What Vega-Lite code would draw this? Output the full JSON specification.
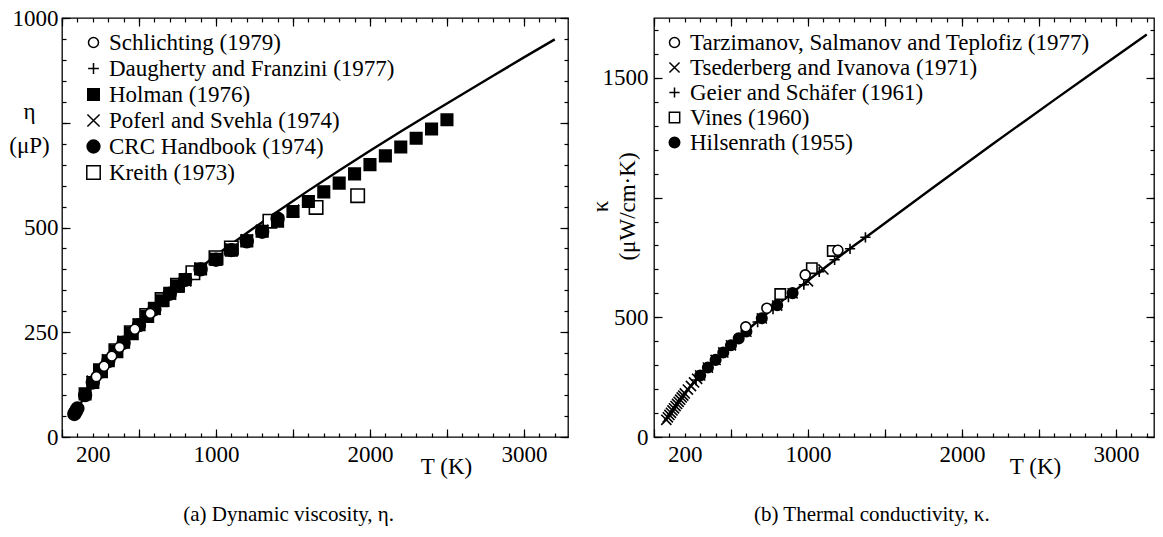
{
  "$schema": "https://vega.github.io/schema/vega-lite/v6.json",
  "background": "white",
  "padding": {"left": 8, "top": 6, "right": 5, "bottom": 5},
  "config": {
    "font": "Liberation Serif",
    "view": {"stroke": "black", "strokeWidth": 1.3},
    "axis": {"labelFont": "Liberation Serif", "labelFontSize": 23, "labelColor": "black", "tickColor": "black", "tickWidth": 1.2, "domain": false, "grid": false, "titleFont": "Liberation Serif", "titleFontSize": 23, "titleFontWeight": "normal", "titleColor": "black", "labelOverlap": false, "labelFlush": false, "labelBound": false},
    "legend": {"orient": "none", "title": null, "labelFont": "Liberation Serif", "labelFontSize": 23, "labelColor": "black", "labelLimit": 0, "rowPadding": 2, "labelOffset": 4, "padding": 0},
    "title": {"font": "Liberation Serif", "fontSize": 21, "fontWeight": "normal", "color": "black"}
  },
  "datasets": {
    "viscLine": [
      {"T": 100, "v": 68}, {"T": 200, "v": 128}, {"T": 300, "v": 180}, {"T": 400, "v": 224}, {"T": 500, "v": 264}, {"T": 600, "v": 302}, {"T": 700, "v": 338}, {"T": 800, "v": 372}, {"T": 900, "v": 404}, {"T": 1000, "v": 434}, {"T": 1200, "v": 487}, {"T": 1400, "v": 538}, {"T": 1600, "v": 588}, {"T": 1800, "v": 636}, {"T": 2000, "v": 683}, {"T": 2200, "v": 729}, {"T": 2400, "v": 774}, {"T": 2600, "v": 818}, {"T": 2800, "v": 862}, {"T": 3000, "v": 906}, {"T": 3200, "v": 949}
    ],
    "visc": [
      {"s": "Kreith (1973)", "T": 250, "v": 158}, {"s": "Kreith (1973)", "T": 350, "v": 206}, {"s": "Kreith (1973)", "T": 450, "v": 249}, {"s": "Kreith (1973)", "T": 550, "v": 290}, {"s": "Kreith (1973)", "T": 650, "v": 328}, {"s": "Kreith (1973)", "T": 750, "v": 362}, {"s": "Kreith (1973)", "T": 850, "v": 392}, {"s": "Kreith (1973)", "T": 1000, "v": 428}, {"s": "Kreith (1973)", "T": 1100, "v": 451}, {"s": "Kreith (1973)", "T": 1350, "v": 515}, {"s": "Kreith (1973)", "T": 1650, "v": 548}, {"s": "Kreith (1973)", "T": 1920, "v": 576},
      {"s": "Holman (1976)", "T": 150, "v": 103}, {"s": "Holman (1976)", "T": 200, "v": 130}, {"s": "Holman (1976)", "T": 250, "v": 157}, {"s": "Holman (1976)", "T": 300, "v": 182}, {"s": "Holman (1976)", "T": 350, "v": 205}, {"s": "Holman (1976)", "T": 400, "v": 226}, {"s": "Holman (1976)", "T": 450, "v": 248}, {"s": "Holman (1976)", "T": 500, "v": 268}, {"s": "Holman (1976)", "T": 550, "v": 288}, {"s": "Holman (1976)", "T": 600, "v": 307}, {"s": "Holman (1976)", "T": 650, "v": 325}, {"s": "Holman (1976)", "T": 700, "v": 343}, {"s": "Holman (1976)", "T": 750, "v": 360}, {"s": "Holman (1976)", "T": 800, "v": 376}, {"s": "Holman (1976)", "T": 900, "v": 401}, {"s": "Holman (1976)", "T": 1000, "v": 424}, {"s": "Holman (1976)", "T": 1100, "v": 446}, {"s": "Holman (1976)", "T": 1200, "v": 468}, {"s": "Holman (1976)", "T": 1300, "v": 491}, {"s": "Holman (1976)", "T": 1400, "v": 515}, {"s": "Holman (1976)", "T": 1500, "v": 538}, {"s": "Holman (1976)", "T": 1600, "v": 562}, {"s": "Holman (1976)", "T": 1700, "v": 585}, {"s": "Holman (1976)", "T": 1800, "v": 606}, {"s": "Holman (1976)", "T": 1900, "v": 628}, {"s": "Holman (1976)", "T": 2000, "v": 650}, {"s": "Holman (1976)", "T": 2100, "v": 671}, {"s": "Holman (1976)", "T": 2200, "v": 692}, {"s": "Holman (1976)", "T": 2300, "v": 713}, {"s": "Holman (1976)", "T": 2400, "v": 735}, {"s": "Holman (1976)", "T": 2500, "v": 757},
      {"s": "CRC Handbook (1974)", "T": 80, "v": 55}, {"s": "CRC Handbook (1974)", "T": 90, "v": 61}, {"s": "CRC Handbook (1974)", "T": 100, "v": 68}, {"s": "CRC Handbook (1974)", "T": 150, "v": 100}, {"s": "CRC Handbook (1974)", "T": 200, "v": 130}, {"s": "CRC Handbook (1974)", "T": 250, "v": 156}, {"s": "CRC Handbook (1974)", "T": 300, "v": 181}, {"s": "CRC Handbook (1974)", "T": 400, "v": 225}, {"s": "CRC Handbook (1974)", "T": 500, "v": 267}, {"s": "CRC Handbook (1974)", "T": 600, "v": 305}, {"s": "CRC Handbook (1974)", "T": 700, "v": 342}, {"s": "CRC Handbook (1974)", "T": 800, "v": 375}, {"s": "CRC Handbook (1974)", "T": 900, "v": 400}, {"s": "CRC Handbook (1974)", "T": 1000, "v": 423}, {"s": "CRC Handbook (1974)", "T": 1100, "v": 446}, {"s": "CRC Handbook (1974)", "T": 1200, "v": 467}, {"s": "CRC Handbook (1974)", "T": 1300, "v": 490}, {"s": "CRC Handbook (1974)", "T": 1400, "v": 521},
      {"s": "Poferl and Svehla (1974)", "T": 200, "v": 132}, {"s": "Poferl and Svehla (1974)", "T": 250, "v": 158}, {"s": "Poferl and Svehla (1974)", "T": 300, "v": 183}, {"s": "Poferl and Svehla (1974)", "T": 350, "v": 206}, {"s": "Poferl and Svehla (1974)", "T": 400, "v": 227}, {"s": "Poferl and Svehla (1974)", "T": 500, "v": 268}, {"s": "Poferl and Svehla (1974)", "T": 600, "v": 306}, {"s": "Poferl and Svehla (1974)", "T": 700, "v": 342}, {"s": "Poferl and Svehla (1974)", "T": 800, "v": 374}, {"s": "Poferl and Svehla (1974)", "T": 900, "v": 402}, {"s": "Poferl and Svehla (1974)", "T": 1000, "v": 425}, {"s": "Poferl and Svehla (1974)", "T": 1100, "v": 447}, {"s": "Poferl and Svehla (1974)", "T": 1200, "v": 469}, {"s": "Poferl and Svehla (1974)", "T": 1300, "v": 492}, {"s": "Poferl and Svehla (1974)", "T": 1400, "v": 516}, {"s": "Poferl and Svehla (1974)", "T": 1500, "v": 540},
      {"s": "Daugherty and Franzini (1977)", "T": 100, "v": 69}, {"s": "Daugherty and Franzini (1977)", "T": 150, "v": 101}, {"s": "Daugherty and Franzini (1977)", "T": 200, "v": 131}, {"s": "Daugherty and Franzini (1977)", "T": 250, "v": 157}, {"s": "Daugherty and Franzini (1977)", "T": 300, "v": 182}, {"s": "Daugherty and Franzini (1977)", "T": 350, "v": 205}, {"s": "Daugherty and Franzini (1977)", "T": 400, "v": 226}, {"s": "Daugherty and Franzini (1977)", "T": 450, "v": 247}, {"s": "Daugherty and Franzini (1977)", "T": 500, "v": 268}, {"s": "Daugherty and Franzini (1977)", "T": 600, "v": 306}, {"s": "Daugherty and Franzini (1977)", "T": 700, "v": 342}, {"s": "Daugherty and Franzini (1977)", "T": 800, "v": 375}, {"s": "Daugherty and Franzini (1977)", "T": 900, "v": 403}, {"s": "Daugherty and Franzini (1977)", "T": 1000, "v": 426}, {"s": "Daugherty and Franzini (1977)", "T": 1100, "v": 449},
      {"s": "Schlichting (1979)", "T": 223, "v": 144}, {"s": "Schlichting (1979)", "T": 273, "v": 169}, {"s": "Schlichting (1979)", "T": 323, "v": 193}, {"s": "Schlichting (1979)", "T": 373, "v": 214}, {"s": "Schlichting (1979)", "T": 473, "v": 257}, {"s": "Schlichting (1979)", "T": 573, "v": 295}
    ],
    "condLine": [
      {"T": 80, "k": 74}, {"T": 100, "k": 93}, {"T": 150, "k": 140}, {"T": 200, "k": 184}, {"T": 250, "k": 222}, {"T": 300, "k": 258}, {"T": 350, "k": 292}, {"T": 400, "k": 324}, {"T": 450, "k": 355}, {"T": 500, "k": 385}, {"T": 550, "k": 414}, {"T": 600, "k": 443}, {"T": 650, "k": 471}, {"T": 700, "k": 498}, {"T": 750, "k": 525}, {"T": 800, "k": 552}, {"T": 850, "k": 578}, {"T": 900, "k": 603}, {"T": 950, "k": 629}, {"T": 1000, "k": 654}, {"T": 1100, "k": 703}, {"T": 1200, "k": 752}, {"T": 1300, "k": 800}, {"T": 1400, "k": 846}, {"T": 1600, "k": 941}, {"T": 1800, "k": 1036}, {"T": 2000, "k": 1130}, {"T": 2200, "k": 1224}, {"T": 2400, "k": 1316}, {"T": 2600, "k": 1408}, {"T": 2800, "k": 1499}, {"T": 3000, "k": 1590}, {"T": 3200, "k": 1681}
    ],
    "cond": [
      {"s": "Hilsenrath (1955)", "T": 300, "k": 257}, {"s": "Hilsenrath (1955)", "T": 350, "k": 290}, {"s": "Hilsenrath (1955)", "T": 400, "k": 322}, {"s": "Hilsenrath (1955)", "T": 450, "k": 353}, {"s": "Hilsenrath (1955)", "T": 500, "k": 383}, {"s": "Hilsenrath (1955)", "T": 550, "k": 412}, {"s": "Hilsenrath (1955)", "T": 600, "k": 441}, {"s": "Hilsenrath (1955)", "T": 700, "k": 496}, {"s": "Hilsenrath (1955)", "T": 800, "k": 550}, {"s": "Hilsenrath (1955)", "T": 900, "k": 601},
      {"s": "Tsederberg and Ivanova (1971)", "T": 80, "k": 72}, {"s": "Tsederberg and Ivanova (1971)", "T": 90, "k": 82}, {"s": "Tsederberg and Ivanova (1971)", "T": 100, "k": 92}, {"s": "Tsederberg and Ivanova (1971)", "T": 110, "k": 101}, {"s": "Tsederberg and Ivanova (1971)", "T": 120, "k": 111}, {"s": "Tsederberg and Ivanova (1971)", "T": 130, "k": 120}, {"s": "Tsederberg and Ivanova (1971)", "T": 140, "k": 129}, {"s": "Tsederberg and Ivanova (1971)", "T": 150, "k": 138}, {"s": "Tsederberg and Ivanova (1971)", "T": 160, "k": 147}, {"s": "Tsederberg and Ivanova (1971)", "T": 170, "k": 156}, {"s": "Tsederberg and Ivanova (1971)", "T": 180, "k": 165}, {"s": "Tsederberg and Ivanova (1971)", "T": 190, "k": 173}, {"s": "Tsederberg and Ivanova (1971)", "T": 200, "k": 182}, {"s": "Tsederberg and Ivanova (1971)", "T": 220, "k": 198}, {"s": "Tsederberg and Ivanova (1971)", "T": 240, "k": 213}, {"s": "Tsederberg and Ivanova (1971)", "T": 260, "k": 228}, {"s": "Tsederberg and Ivanova (1971)", "T": 280, "k": 243}, {"s": "Tsederberg and Ivanova (1971)", "T": 300, "k": 257}, {"s": "Tsederberg and Ivanova (1971)", "T": 350, "k": 290}, {"s": "Tsederberg and Ivanova (1971)", "T": 400, "k": 322}, {"s": "Tsederberg and Ivanova (1971)", "T": 450, "k": 353}, {"s": "Tsederberg and Ivanova (1971)", "T": 500, "k": 383}, {"s": "Tsederberg and Ivanova (1971)", "T": 600, "k": 440}, {"s": "Tsederberg and Ivanova (1971)", "T": 700, "k": 495}, {"s": "Tsederberg and Ivanova (1971)", "T": 800, "k": 549}, {"s": "Tsederberg and Ivanova (1971)", "T": 900, "k": 600}, {"s": "Tsederberg and Ivanova (1971)", "T": 1000, "k": 650}, {"s": "Tsederberg and Ivanova (1971)", "T": 1100, "k": 700},
      {"s": "Geier and Schäfer (1961)", "T": 273, "k": 238}, {"s": "Geier and Schäfer (1961)", "T": 373, "k": 305}, {"s": "Geier and Schäfer (1961)", "T": 473, "k": 366}, {"s": "Geier and Schäfer (1961)", "T": 573, "k": 425}, {"s": "Geier and Schäfer (1961)", "T": 673, "k": 480}, {"s": "Geier and Schäfer (1961)", "T": 773, "k": 534}, {"s": "Geier and Schäfer (1961)", "T": 873, "k": 584}, {"s": "Geier and Schäfer (1961)", "T": 973, "k": 636}, {"s": "Geier and Schäfer (1961)", "T": 1073, "k": 690}, {"s": "Geier and Schäfer (1961)", "T": 1173, "k": 740}, {"s": "Geier and Schäfer (1961)", "T": 1273, "k": 786}, {"s": "Geier and Schäfer (1961)", "T": 1373, "k": 834},
      {"s": "Vines (1960)", "T": 820, "k": 597}, {"s": "Vines (1960)", "T": 1025, "k": 705}, {"s": "Vines (1960)", "T": 1161, "k": 777},
      {"s": "Tarzimanov, Salmanov and Teplofiz (1977)", "T": 596, "k": 460}, {"s": "Tarzimanov, Salmanov and Teplofiz (1977)", "T": 733, "k": 538}, {"s": "Tarzimanov, Salmanov and Teplofiz (1977)", "T": 982, "k": 677}, {"s": "Tarzimanov, Salmanov and Teplofiz (1977)", "T": 1194, "k": 780}
    ]
  },
  "spacing": 86,
  "bounds": "flush",
  "resolve": {"scale": {"shape": "independent", "fill": "independent", "size": "independent"}, "legend": {"shape": "independent", "fill": "independent", "size": "independent"}},
  "hconcat": [
    {
      "width": 506,
      "height": 419,
      "title": {"text": "(a) Dynamic viscosity, η.", "orient": "bottom", "frame": "bounds", "anchor": "middle", "offset": 26},
      "resolve": {"axis": {"x": "independent", "y": "independent"}},
      "layer": [
        {
          "data": {"name": "viscLine"},
          "mark": {"type": "line", "color": "black", "strokeWidth": 2.4},
          "encoding": {
            "x": {"field": "T", "type": "quantitative", "scale": {"domain": [0, 3286], "nice": false, "zero": false}, "axis": {"orient": "bottom", "values": [0, 500, 1000, 1500, 2000, 2500, 3000], "tickSize": -8, "labels": false, "title": null}},
            "y": {"field": "v", "type": "quantitative", "scale": {"domain": [0, 1000], "nice": false}, "axis": {"orient": "left", "values": [0, 250, 500, 750, 1000], "tickSize": -8, "labels": false, "title": null}}
          }
        },
        {
          "data": {"name": "visc"},
          "mark": {"type": "point", "stroke": "black", "strokeWidth": 1.6, "opacity": 1},
          "encoding": {
            "x": {"field": "T", "type": "quantitative", "axis": {"orient": "bottom", "values": [0, 100, 200, 300, 400, 500, 600, 700, 800, 900, 1000, 1100, 1200, 1300, 1400, 1500, 1600, 1700, 1800, 1900, 2000, 2100, 2200, 2300, 2400, 2500, 2600, 2700, 2800, 2900, 3000, 3100, 3200], "tickSize": -4, "format": "d", "labelExpr": "datum.value == 200 || datum.value == 1000 || datum.value == 2000 || datum.value == 3000 ? datum.label : ''", "labelPadding": 10, "title": "T (K)", "titleX": 384, "titleY": 29, "titleAngle": 0, "titleAlign": "center", "titleBaseline": "middle"}},
            "y": {"field": "v", "type": "quantitative", "axis": {"orient": "left", "values": [0, 50, 100, 150, 200, 250, 300, 350, 400, 450, 500, 550, 600, 650, 700, 750, 800, 850, 900, 950, 1000], "tickSize": -4, "format": "d", "labelExpr": "datum.value == 0 || datum.value == 250 || datum.value == 500 || datum.value == 1000 ? datum.label : ''", "labelPadding": 8, "title": ["η", "(μP)"], "titleX": -33, "titleY": 93, "titleAngle": 0, "titleAlign": "center", "titleBaseline": "middle", "titleLineHeight": 34}},
            "shape": {"field": "s", "type": "nominal", "scale": {"domain": ["Schlichting (1979)", "Daugherty and Franzini (1977)", "Holman (1976)", "Poferl and Svehla (1974)", "CRC Handbook (1974)", "Kreith (1973)"], "range": ["circle", "M-1,0H1M0,-1V1", "square", "M-1,-1L1,1M-1,1L1,-1", "circle", "square"]}, "legend": {"legendX": 20, "legendY": 13, "encode": {"symbols": {"update": {"stroke": {"value": "black"}, "strokeWidth": {"value": 1.5}}}}}},
            "fill": {"field": "s", "type": "nominal", "scale": {"domain": ["Schlichting (1979)", "Daugherty and Franzini (1977)", "Holman (1976)", "Poferl and Svehla (1974)", "CRC Handbook (1974)", "Kreith (1973)"], "range": ["white", "black", "black", "black", "black", "white"]}, "legend": {"legendX": 20, "legendY": 13, "encode": {"symbols": {"update": {"stroke": {"value": "black"}, "strokeWidth": {"value": 1.5}}}}}},
            "size": {"field": "s", "type": "nominal", "scale": {"domain": ["Schlichting (1979)", "Daugherty and Franzini (1977)", "Holman (1976)", "Poferl and Svehla (1974)", "CRC Handbook (1974)", "Kreith (1973)"], "range": [100, 180, 70, 110, 100, 70]}, "legend": {"legendX": 20, "legendY": 13, "encode": {"symbols": {"update": {"stroke": {"value": "black"}, "strokeWidth": {"value": 1.5}}}}}}
          }
        },
        {
          "data": {"name": "viscLine"},
          "mark": {"type": "point", "opacity": 0},
          "encoding": {
            "x": {"field": "T", "type": "quantitative", "axis": {"orient": "top", "values": [0, 500, 1000, 1500, 2000, 2500, 3000], "tickSize": -8, "labels": false, "title": null}},
            "y": {"field": "v", "type": "quantitative", "axis": {"orient": "right", "values": [0, 250, 500, 750, 1000], "tickSize": -8, "labels": false, "title": null}}
          }
        },
        {
          "data": {"name": "viscLine"},
          "mark": {"type": "point", "opacity": 0},
          "encoding": {
            "x": {"field": "T", "type": "quantitative", "axis": {"orient": "top", "values": [0, 100, 200, 300, 400, 500, 600, 700, 800, 900, 1000, 1100, 1200, 1300, 1400, 1500, 1600, 1700, 1800, 1900, 2000, 2100, 2200, 2300, 2400, 2500, 2600, 2700, 2800, 2900, 3000, 3100, 3200], "tickSize": -4, "labels": false, "title": null}},
            "y": {"field": "v", "type": "quantitative", "axis": {"orient": "right", "values": [0, 50, 100, 150, 200, 250, 300, 350, 400, 450, 500, 550, 600, 650, 700, 750, 800, 850, 900, 950, 1000], "tickSize": -4, "labels": false, "title": null}}
          }
        }
      ]
    },
    {
      "width": 500,
      "height": 419,
      "title": {"text": "(b) Thermal conductivity, κ.", "orient": "bottom", "frame": "bounds", "anchor": "middle", "offset": 26},
      "resolve": {"axis": {"x": "independent", "y": "independent"}},
      "layer": [
        {
          "data": {"name": "condLine"},
          "mark": {"type": "line", "color": "black", "strokeWidth": 2.4},
          "encoding": {
            "x": {"field": "T", "type": "quantitative", "scale": {"domain": [0, 3247], "nice": false, "zero": false}, "axis": {"orient": "bottom", "values": [0, 500, 1000, 1500, 2000, 2500, 3000], "tickSize": -8, "labels": false, "title": null}},
            "y": {"field": "k", "type": "quantitative", "scale": {"domain": [0, 1750], "nice": false}, "axis": {"orient": "left", "values": [0, 500, 1000, 1500], "tickSize": -8, "labels": false, "title": null}}
          }
        },
        {
          "data": {"name": "cond"},
          "mark": {"type": "point", "stroke": "black", "strokeWidth": 1.6, "opacity": 1},
          "encoding": {
            "x": {"field": "T", "type": "quantitative", "axis": {"orient": "bottom", "values": [0, 100, 200, 300, 400, 500, 600, 700, 800, 900, 1000, 1100, 1200, 1300, 1400, 1500, 1600, 1700, 1800, 1900, 2000, 2100, 2200, 2300, 2400, 2500, 2600, 2700, 2800, 2900, 3000, 3100, 3200], "tickSize": -4, "format": "d", "labelExpr": "datum.value == 200 || datum.value == 1000 || datum.value == 2000 || datum.value == 3000 ? datum.label : ''", "labelPadding": 10, "title": "T (K)", "titleX": 381, "titleY": 29, "titleAngle": 0, "titleAlign": "center", "titleBaseline": "middle"}},
            "y": {"field": "k", "type": "quantitative", "axis": {"orient": "left", "values": [0, 100, 200, 300, 400, 500, 600, 700, 800, 900, 1000, 1100, 1200, 1300, 1400, 1500, 1600, 1700], "tickSize": -4, "format": "d", "labelExpr": "datum.value == 0 || datum.value == 500 || datum.value == 1500 ? datum.label : ''", "labelPadding": 10, "title": ["κ", "(μW/cm·K)"], "titleX": -54, "titleY": 188, "titleAngle": 270, "titleAlign": "center", "titleBaseline": "middle", "titleLineHeight": 27}},
            "shape": {"field": "s", "type": "nominal", "scale": {"domain": ["Tarzimanov, Salmanov and Teplofiz (1977)", "Tsederberg and Ivanova (1971)", "Geier and Schäfer (1961)", "Vines (1960)", "Hilsenrath (1955)"], "range": ["circle", "M-1,-1L1,1M-1,1L1,-1", "M-1,0H1M0,-1V1", "square", "circle"]}, "legend": {"legendX": 9, "legendY": 13, "rowPadding": 1, "encode": {"symbols": {"update": {"stroke": {"value": "black"}, "strokeWidth": {"value": 1.5}}}}}},
            "fill": {"field": "s", "type": "nominal", "scale": {"domain": ["Tarzimanov, Salmanov and Teplofiz (1977)", "Tsederberg and Ivanova (1971)", "Geier and Schäfer (1961)", "Vines (1960)", "Hilsenrath (1955)"], "range": ["white", "black", "black", "white", "black"]}, "legend": {"legendX": 9, "legendY": 13, "rowPadding": 1, "encode": {"symbols": {"update": {"stroke": {"value": "black"}, "strokeWidth": {"value": 1.5}}}}}},
            "size": {"field": "s", "type": "nominal", "scale": {"domain": ["Tarzimanov, Salmanov and Teplofiz (1977)", "Tsederberg and Ivanova (1971)", "Geier and Schäfer (1961)", "Vines (1960)", "Hilsenrath (1955)"], "range": [100, 110, 180, 70, 100]}, "legend": {"legendX": 9, "legendY": 13, "rowPadding": 1, "encode": {"symbols": {"update": {"stroke": {"value": "black"}, "strokeWidth": {"value": 1.5}}}}}}
          }
        },
        {
          "data": {"name": "condLine"},
          "mark": {"type": "point", "opacity": 0},
          "encoding": {
            "x": {"field": "T", "type": "quantitative", "axis": {"orient": "top", "values": [0, 500, 1000, 1500, 2000, 2500, 3000], "tickSize": -8, "labels": false, "title": null}},
            "y": {"field": "k", "type": "quantitative", "axis": {"orient": "right", "values": [0, 500, 1000, 1500], "tickSize": -8, "labels": false, "title": null}}
          }
        },
        {
          "data": {"name": "condLine"},
          "mark": {"type": "point", "opacity": 0},
          "encoding": {
            "x": {"field": "T", "type": "quantitative", "axis": {"orient": "top", "values": [0, 100, 200, 300, 400, 500, 600, 700, 800, 900, 1000, 1100, 1200, 1300, 1400, 1500, 1600, 1700, 1800, 1900, 2000, 2100, 2200, 2300, 2400, 2500, 2600, 2700, 2800, 2900, 3000, 3100, 3200], "tickSize": -4, "labels": false, "title": null}},
            "y": {"field": "k", "type": "quantitative", "axis": {"orient": "right", "values": [0, 100, 200, 300, 400, 500, 600, 700, 800, 900, 1000, 1100, 1200, 1300, 1400, 1500, 1600, 1700], "tickSize": -4, "labels": false, "title": null}}
          }
        }
      ]
    }
  ]
}
